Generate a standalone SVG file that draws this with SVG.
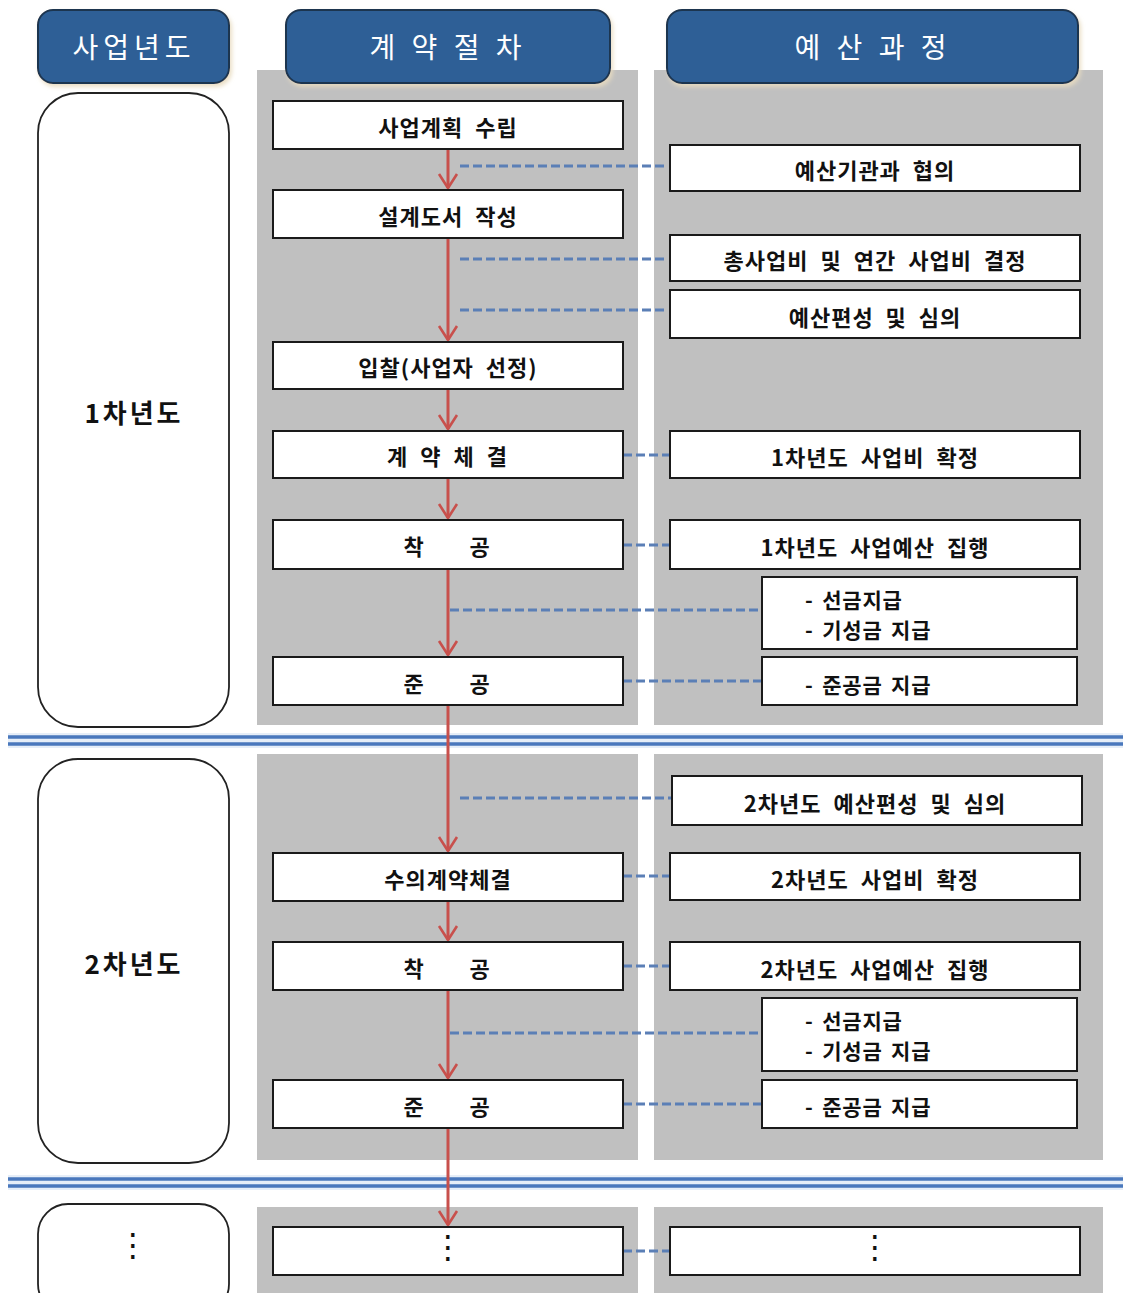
<svg xmlns="http://www.w3.org/2000/svg" width="1123" height="1293" viewBox="0 0 1123 1293">
<style>
text{font-family:"Noto Sans CJK KR","DejaVu Sans",sans-serif;}
.hdr{fill:#2d5f96;stroke:#1d3550;stroke-width:2;}
.hdrt{fill:#fff;font-size:28px;letter-spacing:5px;text-anchor:middle;dominant-baseline:central;}
.panel{fill:#c0c0c0;}
.year{fill:#fff;stroke:#222;stroke-width:1.8;}
.yt{font-size:26px;font-weight:bold;text-anchor:middle;dominant-baseline:central;letter-spacing:3px;fill:#111;}
.box{fill:#fff;stroke:#1a1a1a;stroke-width:2;}
.t{font-size:22px;font-weight:bold;text-anchor:middle;dominant-baseline:central;letter-spacing:1px;word-spacing:6px;fill:#111;}
.tl{font-size:21px;font-weight:bold;dominant-baseline:central;letter-spacing:0.8px;word-spacing:3px;fill:#111;}
.dots{font-family:"DejaVu Sans",sans-serif;font-size:32px;text-anchor:middle;dominant-baseline:central;fill:#111;}
.flow{stroke:#c8504c;stroke-width:3;fill:none;marker-end:url(#ah);}
.dash{stroke:#5b7fb6;stroke-width:3;stroke-dasharray:9 4;fill:none;}
.sep{stroke:#4a78bd;stroke-width:3.5;}
</style>
<defs>
<marker id="ah" viewBox="-16 -12 19 24" refX="0" refY="0" markerWidth="19" markerHeight="24" markerUnits="userSpaceOnUse" orient="auto">
<path d="M-14,-9 L0,0 L-14,9" fill="none" stroke="#c8504c" stroke-width="2.6"/>
</marker>
<filter id="sh" x="-10%" y="-10%" width="120%" height="130%">
<feDropShadow dx="2" dy="3" stdDeviation="2" flood-color="#e8dcc0" flood-opacity="0.9"/>
</filter>
</defs>
<rect width="1123" height="1293" fill="#fff"/>
<g id="panels">
<rect class="panel" x="257" y="70" width="381" height="655"/>
<rect class="panel" x="654" y="70" width="449" height="655"/>
<rect class="panel" x="257" y="754" width="381" height="406"/>
<rect class="panel" x="654" y="754" width="449" height="406"/>
<rect class="panel" x="257" y="1207" width="381" height="86"/>
<rect class="panel" x="654" y="1207" width="449" height="86"/>
</g>
<g id="hdr-year"><rect class="hdr" x="38" y="10" width="191" height="73" rx="15" filter="url(#sh)"/><text class="hdrt" x="134" y="46">사업년도</text></g>
<g id="hdr-contract"><rect class="hdr" x="286" y="10" width="324" height="73" rx="15" filter="url(#sh)"/><text class="hdrt" x="448" y="46">계 약 절 차</text></g>
<g id="hdr-budget"><rect class="hdr" x="667" y="10" width="411" height="73" rx="15" filter="url(#sh)"/><text class="hdrt" x="873" y="46">예 산 과 정</text></g>
<g id="separators">
<rect x="8" y="733" width="1115" height="15" fill="#e6eef8"/>
<line class="sep" x1="8" y1="737" x2="1123" y2="737"/>
<line class="sep" x1="8" y1="744" x2="1123" y2="744"/>
<rect x="8" y="1175" width="1115" height="15" fill="#e6eef8"/>
<line class="sep" x1="8" y1="1179" x2="1123" y2="1179"/>
<line class="sep" x1="8" y1="1186" x2="1123" y2="1186"/>
</g>
<g id="year1"><rect class="year" x="38" y="93" width="191" height="634" rx="40"/><text class="yt" x="134" y="411">1차년도</text></g>
<g id="year2"><rect class="year" x="38" y="759" width="191" height="404" rx="40"/><text class="yt" x="134" y="962">2차년도</text></g>
<g id="year3"><rect class="year" x="38" y="1204" width="191" height="110" rx="30"/><text class="dots" x="133" y="1245">⋮</text></g>
<g id="connectors">
<line class="flow" x1="448" y1="149" x2="448" y2="188"/>
<line class="flow" x1="448" y1="238" x2="448" y2="340"/>
<line class="flow" x1="448" y1="389" x2="448" y2="429"/>
<line class="flow" x1="448" y1="478" x2="448" y2="518"/>
<line class="flow" x1="448" y1="569" x2="448" y2="655"/>
<line class="flow" x1="448" y1="705" x2="448" y2="851"/>
<line class="flow" x1="448" y1="901" x2="448" y2="940"/>
<line class="flow" x1="448" y1="990" x2="448" y2="1078"/>
<line class="flow" x1="448" y1="1128" x2="448" y2="1225"/>
<line class="dash" x1="460" y1="166" x2="668" y2="166"/>
<line class="dash" x1="460" y1="259" x2="668" y2="259"/>
<line class="dash" x1="460" y1="310" x2="668" y2="310"/>
<line class="dash" x1="623" y1="455" x2="670" y2="455"/>
<line class="dash" x1="623" y1="545" x2="670" y2="545"/>
<line class="dash" x1="450" y1="610" x2="762" y2="610"/>
<line class="dash" x1="623" y1="681" x2="762" y2="681"/>
<line class="dash" x1="460" y1="798" x2="672" y2="798"/>
<line class="dash" x1="623" y1="876" x2="670" y2="876"/>
<line class="dash" x1="623" y1="966" x2="670" y2="966"/>
<line class="dash" x1="450" y1="1033" x2="762" y2="1033"/>
<line class="dash" x1="623" y1="1104" x2="762" y2="1104"/>
<line class="dash" x1="623" y1="1251" x2="670" y2="1251"/>
</g>
<g id="c1"><rect class="box" x="273" y="101" width="350" height="48"/><text class="t" x="448" y="126">사업계획 수립</text></g>
<g id="c2"><rect class="box" x="273" y="190" width="350" height="48"/><text class="t" x="448" y="215">설계도서 작성</text></g>
<g id="c3"><rect class="box" x="273" y="342" width="350" height="47"/><text class="t" x="448" y="366">입찰(사업자 선정)</text></g>
<g id="c4"><rect class="box" x="273" y="431" width="350" height="47"/><text class="t" x="448" y="455" style="word-spacing:4px;letter-spacing:2px">계 약 체 결</text></g>
<g id="c5"><rect class="box" x="273" y="520" width="350" height="49"/><text class="t"><tspan x="414" y="545">착</tspan><tspan x="480" y="545">공</tspan></text></g>
<g id="c6"><rect class="box" x="273" y="657" width="350" height="48"/><text class="t"><tspan x="414" y="682">준</tspan><tspan x="480" y="682">공</tspan></text></g>
<g id="c7"><rect class="box" x="273" y="853" width="350" height="48"/><text class="t" x="448" y="878">수의계약체결</text></g>
<g id="c8"><rect class="box" x="273" y="942" width="350" height="48"/><text class="t"><tspan x="414" y="967">착</tspan><tspan x="480" y="967">공</tspan></text></g>
<g id="c9"><rect class="box" x="273" y="1080" width="350" height="48"/><text class="t"><tspan x="414" y="1105">준</tspan><tspan x="480" y="1105">공</tspan></text></g>
<g id="c10"><rect class="box" x="273" y="1227" width="350" height="48"/><text class="dots" x="448" y="1247">⋮</text></g>
<g id="b1"><rect class="box" x="670" y="145" width="410" height="46"/><text class="t" x="875" y="169">예산기관과 협의</text></g>
<g id="b2"><rect class="box" x="670" y="235" width="410" height="46"/><text class="t" x="875" y="259">총사업비 및 연간 사업비 결정</text></g>
<g id="b3"><rect class="box" x="670" y="290" width="410" height="48"/><text class="t" x="875" y="316">예산편성 및 심의</text></g>
<g id="b4"><rect class="box" x="670" y="431" width="410" height="47"/><text class="t" x="875" y="456">1차년도 사업비 확정</text></g>
<g id="b5"><rect class="box" x="670" y="520" width="410" height="49"/><text class="t" x="875" y="546">1차년도 사업예산 집행</text></g>
<g id="b6"><rect class="box" x="762" y="577" width="315" height="72"/><text class="tl" x="805" y="599">- 선금지급</text><text class="tl" x="805" y="629">- 기성금 지급</text></g>
<g id="b7"><rect class="box" x="762" y="657" width="315" height="48"/><text class="tl" x="805" y="684">- 준공금 지급</text></g>
<g id="b8"><rect class="box" x="672" y="776" width="410" height="49"/><text class="t" x="875" y="802">2차년도 예산편성 및 심의</text></g>
<g id="b9"><rect class="box" x="670" y="853" width="410" height="47"/><text class="t" x="875" y="878">2차년도 사업비 확정</text></g>
<g id="b10"><rect class="box" x="670" y="942" width="410" height="48"/><text class="t" x="875" y="968">2차년도 사업예산 집행</text></g>
<g id="b11"><rect class="box" x="762" y="998" width="315" height="73"/><text class="tl" x="805" y="1020">- 선금지급</text><text class="tl" x="805" y="1050">- 기성금 지급</text></g>
<g id="b12"><rect class="box" x="762" y="1080" width="315" height="48"/><text class="tl" x="805" y="1106">- 준공금 지급</text></g>
<g id="b13"><rect class="box" x="670" y="1227" width="410" height="48"/><text class="dots" x="875" y="1247">⋮</text></g>
</svg>
